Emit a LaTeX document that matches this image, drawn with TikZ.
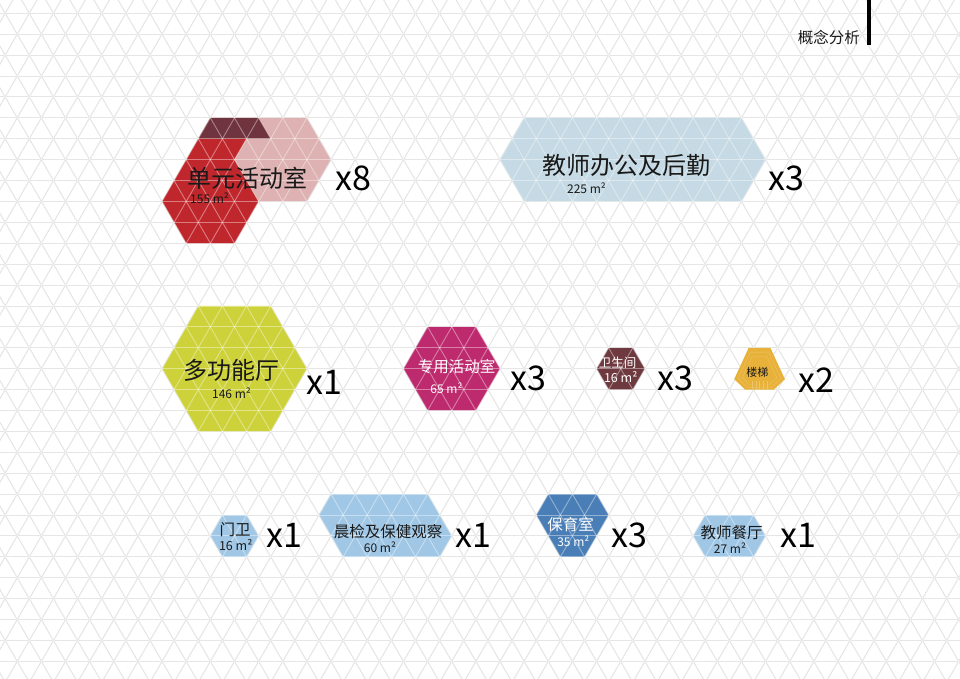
\documentclass[tikz,border=0pt]{standalone}
\usepackage{fontspec}
\setmainfont{Noto Sans CJK SC}

\definecolor{gridgray}{RGB}{214,214,214}
\definecolor{ink}{RGB}{25,25,25}
\definecolor{unitred}{RGB}{192,39,45}
\definecolor{unitpink}{RGB}{222,178,178}
\definecolor{unitdark}{RGB}{112,52,62}
\definecolor{officeblue}{RGB}{197,218,228}
\definecolor{hallgreen}{RGB}{205,210,58}
\definecolor{roommagenta}{RGB}{190,42,110}
\definecolor{wcmaroon}{RGB}{110,58,64}
\definecolor{stairorange}{RGB}{232,178,58}
\definecolor{lightblue}{RGB}{160,200,230}
\definecolor{steelblue}{RGB}{74,126,182}

\tikzset{
  lattice/.style={xshift=29.3pt, yshift=-13.3pt, x=12.07pt, y=-20.905pt},
  gridline/.style={draw=gridgray, line width=0.9pt},
  gridglow/.style={draw=white, opacity=0.4, line width=0.9pt},
  stairline/.style={draw=stairorange!75!white, line width=0.3pt},
  bigname/.style={font=\fontsize{24}{26}\selectfont, text=ink, inner sep=0pt},
  midname/.style={font=\fontsize{15.5}{17}\selectfont, text=ink, inner sep=0pt},
  smallname/.style={font=\fontsize{12.5}{14}\selectfont, text=ink, inner sep=0pt},
  area/.style={font=\fontsize{12}{13}\selectfont, text=ink, inner sep=0pt},
  count/.style={font=\fontsize{34}{36}\selectfont, text=black, anchor=west, inner sep=0pt}
}

\begin{document}
\begin{tikzpicture}[x=1pt, y=-1pt]
\useasboundingbox (0,0) rectangle (960,679);
\clip (0,0) rectangle (960,679);

\begin{scope}[lattice]
% triangle grid
\foreach \j in {-1,...,32}
  \draw[gridline] (-5,\j) -- (80,\j);
\foreach \m in {-40,-38,...,114} {
  \draw[gridline] (\m,-2) -- ++(36,36);
  \draw[gridline] (\m,-2) -- ++(-36,36);
}

% unit activity rooms
\fill[unitred] (15,5) -- (19,5) -- (21,7) -- (17,11) -- (13,11) -- (11,9) -- cycle;
\fill[unitpink] (19,5) -- (23,5) -- (25,7) -- (23,9) -- (19,9) -- (17,7) -- cycle;
\fill[unitdark] (15,5) -- (19,5) -- (20,6) -- (14,6) -- cycle;
% teachers office
\fill[officeblue] (41,5) -- (59,5) -- (61,7) -- (59,9) -- (41,9) -- (39,7) -- cycle;
% hall
\fill[hallgreen] (14,14) -- (20,14) -- (23,17) -- (20,20) -- (14,20) -- (11,17) -- cycle;
% special activity room
\fill[roommagenta] (33,15) -- (37,15) -- (39,17) -- (37,19) -- (33,19) -- (31,17) -- cycle;
% toilets
\fill[wcmaroon] (48,16) -- (50,16) -- (51,17) -- (50,18) -- (48,18) -- (47,17) -- cycle;
% gate
\fill[lightblue] (16,24) -- (18,24) -- (19,25) -- (18,26) -- (16,26) -- (15,25) -- cycle;
% health check
\fill[lightblue] (25,23) -- (33,23) -- (35,25) -- (34,26) -- (26,26) -- (24,24) -- cycle;
% nursery
\fill[steelblue] (43,23) -- (47,23) -- (48,24) -- (46,26) -- (44,26) -- (42,24) -- cycle;
% teachers dining
\fill[lightblue] (56,24) -- (60,24) -- (61,25) -- (60,26) -- (56,26) -- (55,25) -- cycle;

% light grid over the rooms
\foreach \j in {-1,...,32}
  \draw[gridglow] (-5,\j) -- (80,\j);
\foreach \m in {-40,-38,...,114} {
  \draw[gridglow] (\m,-2) -- ++(36,36);
  \draw[gridglow] (\m,-2) -- ++(-36,36);
}

% stairs, with their steps
\fill[stairorange] (59.6,16) -- (61.4,16) -- (62.6,17.5) -- (61.7,18) -- (59.3,18) -- (58.4,17.5) -- cycle;
\foreach \k in {0.84,0.68} {
  \begin{scope}[shift={(60.5,17.3)}, scale=\k, shift={(-60.5,-17.3)}]
    \draw[stairline] (59.6,16) -- (61.4,16) -- (62.6,17.5) -- (61.7,18) -- (59.3,18) -- (58.4,17.5) -- cycle;
  \end{scope}
}
\foreach \m in {59.9,60.2,...,61.2}
  \draw[stairline] (\m,17.6) -- (\m,17.95);
\end{scope}

% title
\node[midname, anchor=east] (title) at (860,38) {概念分析};
\fill[black] (867.3,0) rectangle (870.7,45);

% row 1
\node[bigname] (unitname) at (247.5,178) {单元活动室};
\node[area, anchor=west] (unitarea) at (190,198) {155 m²};
\node[count] (unitcount) at (335,178) {x8};
\node[bigname] (officename) at (626,165) {教师办公及后勤};
\node[area] (officearea) at (586.5,188) {225 m²};
\node[count] (officecount) at (768,178) {x3};

% row 2
\node[bigname] (hallname) at (231.5,370) {多功能厅};
\node[area] (hallarea) at (231.5,393) {146 m²};
\node[count] (hallcount) at (306.7,382) {x1};
\node[midname, text=white] (specname) at (456.5,367) {专用活动室};
\node[area, text=white] (specarea) at (446.5,388) {65 m²};
\node[count] (speccount) at (510,378) {x3};
\node[smallname, text=white] (wcname) at (617.5,363) {卫生间};
\node[smallname, text=white] (wcarea) at (620.7,377) {16 m²};
\node[count] (wccount) at (657,378) {x3};
\node[font=\fontsize{11}{12}\selectfont, text=ink, inner sep=0pt] (stairname) at (757.3,372) {楼梯};
\node[count] (staircount) at (798.3,380) {x2};

% row 3
\node[midname] (gatename) at (235,530) {门卫};
\node[smallname] (gatearea) at (235.7,545) {16 m²};
\node[count] (gatecount) at (266.7,535) {x1};
\node[midname] (checkname) at (388,532) {晨检及保健观察};
\node[area] (checkarea) at (380,547) {60 m²};
\node[count] (checkcount) at (455,535) {x1};
\node[midname, text=white] (nursename) at (570.7,525) {保育室};
\node[area, text=white] (nursearea) at (573.3,541.7) {35 m²};
\node[count] (nursecount) at (611.7,535) {x3};
\node[midname] (dinename) at (731.7,533) {教师餐厅};
\node[area] (dinearea) at (730,548) {27 m²};
\node[count] (dinecount) at (780,535) {x1};
\end{tikzpicture}
\end{document}
